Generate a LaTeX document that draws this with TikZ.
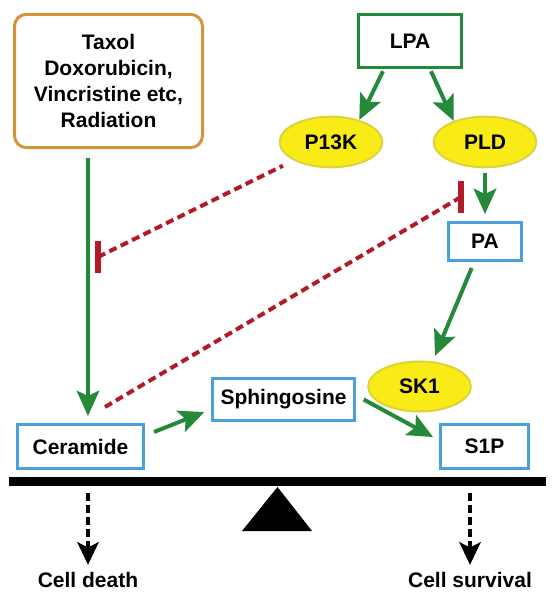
\documentclass[tikz,border=0pt]{standalone}
\usepackage{fontspec}
\setmainfont{Liberation Sans}
\usetikzlibrary{arrows.meta,shapes.geometric,calc}
\definecolor{gr}{RGB}{36,138,58}
\definecolor{orb}{RGB}{212,148,58}
\definecolor{bl}{RGB}{74,160,220}
\definecolor{ye}{RGB}{249,235,22}
\definecolor{yb}{RGB}{222,210,60}
\definecolor{rd}{RGB}{178,26,40}
\begin{document}
\begin{tikzpicture}[x=0.75pt,y=-0.75pt,
  every node/.style={font=\fontsize{15.75pt}{19.3pt}\selectfont\bfseries},
  bluebox/.style={draw=bl, line width=2.25pt, fill=white, minimum height=33pt, inner sep=0pt},
  enz/.style={ellipse, draw=yb, line width=1.5pt, fill=ye, minimum width=77pt, minimum height=38pt, inner sep=0pt},
  garrow/.style={draw=gr, line width=3pt, -{Stealth[length=19pt,width=17pt,inset=4pt]}},
  inhib/.style={draw=rd, line width=3pt, dash pattern=on 6pt off 3.5pt},
  inhbar/.style={draw=rd, line width=4.5pt},
  outarrow/.style={draw=black, line width=2.8pt, dash pattern=on 6pt off 3pt, -{Stealth[length=17pt,width=16pt,inset=4pt]}}]
\useasboundingbox (0,0) rectangle (553,599);

% nodes
\node[draw=orb, line width=2.25pt, rounded corners=9pt, minimum width=141pt, minimum height=100pt, align=center] (taxol) at (108.5,81) {Taxol\\Doxorubicin,\\Vincristine etc,\\Radiation};
\node[draw=gr, line width=2.25pt, minimum width=77pt, minimum height=40pt] (lpa) at (410,41) {LPA};
\node[enz] (p13k) at (331,142) {P13K};
\node[enz] (pld) at (485,142) {PLD};
\node[bluebox, minimum width=54.5pt, minimum height=28.5pt] (pa) at (485,241.5) {PA};
\node[enz, minimum height=37.5pt] (sk1) at (419.5,386.5) {SK1};
\node[bluebox, minimum width=106pt, minimum height=32pt] (sph) at (283.5,399.5) {Sphingosine};
\node[bluebox, minimum width=94.5pt] (cer) at (80.5,446.5) {Ceramide};
\node[bluebox, minimum width=66pt] (s1p) at (484.5,446.5) {S1P};
\node[anchor=base, inner sep=5pt] (death) at (88,587) {Cell death};
\node[anchor=base, inner sep=5pt] (surv) at (470,587) {Cell survival};

% balance
\fill (9,477) rectangle (546,486);
\fill (277.5,487) -- (312,531) -- (242,531) -- cycle;
\coordinate (d1) at (88,493);
\coordinate (s1) at (470,493);
\draw[outarrow] (d1) -- (death.north);
\draw[outarrow] (s1) -- (surv.north);

% green arrows
\draw[garrow, line width=2.5pt] ([xshift=-15.4pt,yshift=-6.75pt]taxol.south) -- ([xshift=5.6pt,yshift=5.25pt]cer.north);
\draw[garrow] ([xshift=-20.25pt,yshift=-1.5pt]lpa.south) -- (p13k.38);
\draw[garrow] ([xshift=15.75pt,yshift=-1.5pt]lpa.south) -- (pld.146);
\draw[garrow, shorten <=3.75pt, shorten >=5.25pt] (pld.south) -- (pa.north);
\draw[garrow] ([xshift=-10pt,yshift=-4.5pt]pa.south) -- ([xshift=11.6pt,yshift=23pt]sk1.center);
\draw[garrow] ([xshift=6.75pt,yshift=10.9pt]cer.east) -- ([xshift=-5.25pt,yshift=-9.4pt]sph.west);
\draw[garrow] ([xshift=6pt]sph.east) -- ([xshift=-4.5pt,yshift=7.1pt]s1p.west);

% inhibitions
\coordinate (inh1) at (98,257);
\draw[inhib, shorten >=9pt] (inh1) -- (p13k);
\draw[inhbar] ($(inh1)+(0,-16)$) -- ($(inh1)+(0,16)$);
\coordinate (inh2) at (461,197);
\coordinate (cerA) at ($(cer.north)+(24.5,-16)$);
\draw[inhib] (cerA) -- (inh2);
\draw[inhbar] ($(inh2)+(0,-16)$) -- ($(inh2)+(0,16)$);
\end{tikzpicture}
\end{document}
